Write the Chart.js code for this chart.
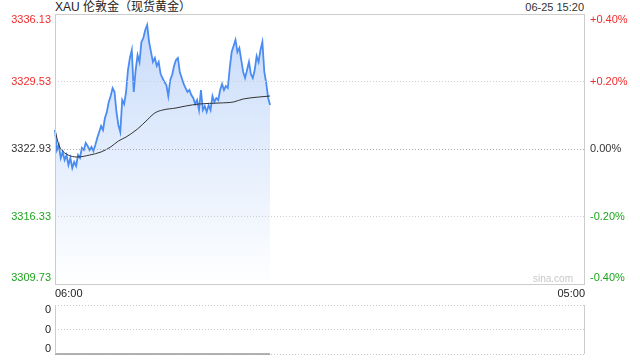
<!DOCTYPE html>
<html lang="zh-CN">
<head>
<meta charset="UTF-8">
<title>XAU 伦敦金（现货黄金）</title>
<script src="https://cdn.jsdelivr.net/npm/chart.js"></script>
<style>
  body {
    margin: 0;
    width: 640px;
    height: 360px;
    background: #fff;
    position: relative;
    overflow: hidden;
    font-family: "Liberation Sans", Arial, "Noto Sans CJK SC", sans-serif;
  }
  #mainChart { position: absolute; left: 0; top: 0; }
  #volChart { position: absolute; left: 0; top: 300px; }
  .title { position: absolute; left: 55px; top: 0; font-size: 12px; line-height: 14px; color: #222; }
  .stamp { position: absolute; right: 56px; top: 1px; font-size: 11px; line-height: 13px; color: #333; }
  .mark { position: absolute; right: 67px; top: 273px; font-size: 10px; line-height: 12px; color: #c8c8c8; }
</style>
</head>
<body>
<div class="title">XAU 伦敦金（现货黄金）</div>
<div class="stamp">06-25 15:20</div>
<canvas id="mainChart" width="640" height="300"></canvas>
<div class="mark">sina.com</div>
<canvas id="volChart" width="640" height="60"></canvas>
<script>
// prices every 5 minutes from 06:00 to 15:20
const prices = [
  3324.79, 3322.83, 3323.32, 3322.05, 3322.64, 3321.85, 3322.34, 3321.37, 3322.05, 3321.07,
  3321.66, 3321.27, 3322.34, 3322.05, 3323.03, 3322.83, 3323.52, 3323.22, 3322.83, 3323.13,
  3322.73, 3323.32, 3324.01, 3324.59, 3325.18, 3324.79, 3325.96, 3326.55, 3327.53, 3328.11,
  3328.89, 3328.50, 3326.55, 3325.28, 3324.59, 3327.72, 3327.33, 3328.50, 3330.65, 3331.83,
  3332.61, 3328.50, 3330.65, 3332.12, 3331.44, 3333.39, 3333.78, 3334.57, 3335.05, 3333.39,
  3332.41, 3331.44, 3331.83, 3331.05, 3331.44, 3330.26, 3329.87, 3329.48, 3329.19, 3328.11,
  3329.68, 3330.17, 3331.05, 3331.63, 3331.83, 3330.46, 3329.87, 3329.29, 3328.89, 3328.50,
  3328.70, 3328.21, 3327.92, 3327.33, 3327.72, 3326.74, 3328.70, 3326.74, 3327.13, 3326.55,
  3327.23, 3326.74, 3328.11, 3327.53, 3327.92, 3327.72, 3328.70, 3329.29, 3328.70, 3329.09,
  3328.89, 3330.85, 3332.41, 3333.00, 3333.59, 3332.41, 3332.81, 3331.63, 3330.46, 3329.87,
  3330.65, 3331.44, 3330.26, 3329.87, 3330.65, 3332.02, 3331.44, 3332.61, 3333.39, 3330.46,
  3329.38, 3327.92, 3327.23
];

// average price line
const avgTimes = ['06:00', '06:10', '06:20', '06:40', '07:00', '07:30', '08:00', '08:25', '08:45', '09:05',
  '09:35', '10:00', '10:20', '10:40', '11:15', '11:40', '12:15', '13:10', '13:45', '14:10', '14:50', '15:20'];
const avgValues = [3324.79, 3323.32, 3322.73, 3322.25, 3322.15, 3322.34, 3322.64, 3323.13, 3323.71, 3324.10,
  3324.89, 3325.77, 3326.45, 3326.74, 3326.94, 3327.13, 3327.33, 3327.43, 3327.53, 3327.82, 3328.01, 3328.11];

// volume (all zero in this snapshot)
const volTimes = ['06:00', '15:20'];
const volumes = [0, 0];

const basePrice = 3322.93;
const yTicks = [3309.73, 3316.33, 3322.93, 3329.53, 3336.13];
const volTicks = [0, 0.5, 1];

// session 06:00 -> 05:00 next day, one slot per 5 minutes
const timeLabels = [];
for (let m = 0; m <= 1380; m += 5) {
  const h = (6 + Math.floor(m / 60)) % 24;
  const mm = m % 60;
  timeLabels.push(String(h).padStart(2, '0') + ':' + String(mm).padStart(2, '0'));
}

const RED = '#f02c2c';
const GREEN = '#1ea51e';
const FONT = '11px "Liberation Sans", Arial, sans-serif';

function colorFor(v) {
  if (v > basePrice + 0.001) return RED;
  if (v < basePrice - 0.001) return GREEN;
  return '#333';
}
function pctLabel(v) {
  const p = (v - basePrice) / basePrice * 100;
  if (Math.abs(p) < 0.001) return '0.00%';
  return (p > 0 ? '+' : '') + p.toFixed(2) + '%';
}

const mainLabels = {
  id: 'mainLabels',
  afterDraw(chart) {
    const { ctx, chartArea: a } = chart;
    const y = chart.scales.y;
    ctx.save();
    ctx.strokeStyle = '#cccccc';
    ctx.lineWidth = 1;
    ctx.strokeRect(a.left + 0.5, a.top + 0.5, a.right - a.left - 1, a.bottom - a.top);
    ctx.font = FONT;
    ctx.textBaseline = 'middle';
    y.ticks.forEach(t => {
      let py = y.getPixelForValue(t.value);
      py = Math.min(Math.max(py, a.top + 6), a.bottom - 6);
      ctx.fillStyle = colorFor(t.value);
      ctx.textAlign = 'right';
      ctx.fillText(t.value.toFixed(2), a.left - 4, py);
      ctx.textAlign = 'left';
      ctx.fillText(pctLabel(t.value), a.right + 5, py);
    });
    ctx.restore();
  }
};

new Chart(document.getElementById('mainChart').getContext('2d'), {
  type: 'line',
  data: {
    labels: timeLabels,
    datasets: [
      {
        label: '均价',
        data: avgTimes.map((t, i) => ({ x: t, y: avgValues[i] })),
        borderColor: '#333',
        borderWidth: 1,
        pointRadius: 0,
        cubicInterpolationMode: 'monotone',
        fill: false
      },
      {
        label: '价格',
        data: prices,
        borderColor: '#4a8cf2',
        borderWidth: 1.8,
        pointRadius: 0,
        tension: 0,
        fill: 'start',
        backgroundColor: (c) => {
          const a = c.chart.chartArea;
          if (!a) return 'rgba(0,0,0,0)';
          const g = c.chart.ctx.createLinearGradient(0, a.top, 0, a.bottom);
          g.addColorStop(0, 'rgb(198,218,250)');
          g.addColorStop(1, 'rgb(255,255,255)');
          return g;
        }
      }
    ]
  },
  options: {
    responsive: false,
    animation: false,
    events: [],
    layout: { padding: { top: 14, bottom: 0, left: 0, right: 0 } },
    plugins: { legend: { display: false }, tooltip: { enabled: false } },
    scales: {
      x: {
        type: 'category',
        grid: { display: false, drawTicks: false },
        border: { display: false },
        ticks: {
          autoSkip: false,
          maxRotation: 0,
          align: 'inner',
          padding: 3,
          color: '#222',
          font: { size: 11, family: '"Liberation Sans", Arial, sans-serif' },
          callback: (val, i) => (i === 0 || i === timeLabels.length - 1) ? timeLabels[i] : null
        },
        afterFit: (s) => { s.height = 16; }
      },
      y: {
        position: 'left',
        min: yTicks[0],
        max: yTicks[yTicks.length - 1],
        afterBuildTicks: (s) => { s.ticks = yTicks.map(v => ({ value: v })); },
        ticks: { display: false },
        grid: {
          z: 1,
          drawTicks: false,
          color: (c) => {
            const v = c.tick && c.tick.value;
            if (v === yTicks[0] || v === yTicks[yTicks.length - 1]) return 'rgba(0,0,0,0)';
            return v === basePrice ? '#a8a8a8' : '#cfcfcf';
          }
        },
        border: { display: false, dash: [1, 2] },
        afterFit: (s) => { s.width = 55; }
      },
      yr: {
        position: 'right',
        min: yTicks[0],
        max: yTicks[yTicks.length - 1],
        ticks: { display: false },
        grid: { display: false, drawTicks: false },
        border: { display: false },
        afterFit: (s) => { s.width = 55; }
      }
    }
  },
  plugins: [mainLabels]
});

const volMax = Math.max(...volumes);

const volLabels = {
  id: 'volLabels',
  afterDraw(chart) {
    const { ctx, chartArea: a } = chart;
    const y = chart.scales.y;
    ctx.save();
    ctx.strokeStyle = '#cccccc';
    ctx.lineWidth = 1;
    ctx.beginPath();
    ctx.moveTo(a.left + 0.5, a.top);
    ctx.lineTo(a.left + 0.5, a.bottom);
    ctx.moveTo(a.right - 0.5, a.top);
    ctx.lineTo(a.right - 0.5, a.bottom);
    ctx.stroke();
    ctx.font = FONT;
    ctx.textBaseline = 'middle';
    ctx.textAlign = 'right';
    ctx.fillStyle = '#222';
    y.ticks.forEach(t => {
      let py = y.getPixelForValue(t.value);
      py = Math.min(Math.max(py, a.top + 5), a.bottom - 5);
      ctx.fillText(String(Math.round(t.value * volMax)), a.left - 4, py);
    });
    ctx.restore();
  }
};

new Chart(document.getElementById('volChart').getContext('2d'), {
  type: 'line',
  data: {
    labels: timeLabels,
    datasets: [{
      label: '成交量',
      data: volTimes.map((t, i) => ({ x: t, y: volumes[i] })),
      borderColor: '#999',
      borderWidth: 1.5,
      pointRadius: 0,
      clip: false,
      fill: false
    }]
  },
  options: {
    responsive: false,
    animation: false,
    events: [],
    layout: { padding: { top: 5, bottom: 6, left: 0, right: 55 } },
    plugins: { legend: { display: false }, tooltip: { enabled: false } },
    scales: {
      x: { type: 'category', display: false },
      y: {
        min: 0,
        max: 1,
        afterBuildTicks: (s) => { s.ticks = volTicks.map(v => ({ value: v })); },
        ticks: { display: false },
        grid: { color: '#c8c8c8', drawTicks: false },
        border: { display: false, dash: [1, 2] },
        afterFit: (s) => { s.width = 55; }
      }
    }
  },
  plugins: [volLabels]
});
</script>
</body>
</html>
